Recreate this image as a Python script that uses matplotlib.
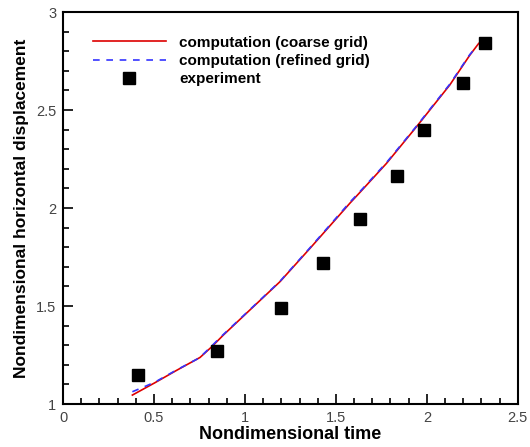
import numpy as np
import matplotlib.pyplot as plt
from matplotlib.ticker import MultipleLocator, FormatStrFormatter

plt.rcParams['font.family'] = ['Liberation Sans', 'DejaVu Sans']

# computed displacement, coarse grid
t_coarse = [0.381, 0.505, 0.62, 0.753, 0.817, 0.881, 1.027, 1.192, 1.357,
            1.577, 1.632, 1.778, 1.943, 2.126, 2.236, 2.285]
x_coarse = [1.046, 1.109, 1.17, 1.238, 1.292, 1.352, 1.48, 1.624, 1.794,
            2.025, 2.08, 2.228, 2.415, 2.628, 2.78, 2.84]

# computed displacement, refined grid
t_fine = [0.381, 0.45, 0.505, 0.62, 0.75, 0.81, 0.881, 1.027, 1.192, 1.357,
          1.577, 1.632, 1.778, 1.943, 2.126, 2.236, 2.27]
x_fine = [1.063, 1.09, 1.112, 1.172, 1.236, 1.29, 1.355, 1.482, 1.626, 1.797,
          2.03, 2.084, 2.232, 2.418, 2.632, 2.783, 2.82]

# measured
t_exp = [0.41, 0.848, 1.198, 1.427, 1.634, 1.837, 1.985, 2.198, 2.32]
x_exp = [1.15, 1.27, 1.49, 1.72, 1.945, 2.163, 2.40, 2.636, 2.843]

fig = plt.figure(figsize=(5.3, 4.47), dpi=100)
ax = fig.add_axes([0.119, 0.096, 0.858, 0.877])

ax.plot(t_coarse, x_coarse, color='#dd0000', lw=1.2,
        label='computation (coarse grid)')
ax.plot(t_fine, x_fine, color='#3333ff', lw=1.2, ls=(0, (4, 4)),
        label='computation (refined grid)')
ax.plot(t_exp, x_exp, 's', color='black', ms=8, label='experiment')

ax.set_xlim(0, 2.5)
ax.set_ylim(1, 3)
ax.xaxis.set_major_locator(MultipleLocator(0.5))
ax.xaxis.set_minor_locator(MultipleLocator(0.1))
ax.yaxis.set_major_locator(MultipleLocator(0.5))
ax.yaxis.set_minor_locator(MultipleLocator(0.1))
ax.xaxis.set_major_formatter(FormatStrFormatter('%g'))
ax.yaxis.set_major_formatter(FormatStrFormatter('%g'))
ax.tick_params(which='both', direction='in', width=1.2, labelsize=10.5,
               labelcolor='#444444', top=False, right=False)
ax.tick_params(which='major', length=7, pad=5)
ax.tick_params(which='minor', length=4)
for s in ax.spines.values():
    s.set_linewidth(1.5)

ax.set_xlabel('Nondimensional time', fontsize=13, fontweight='bold', labelpad=1)
ax.set_ylabel('Nondimensional horizontal displacement', fontsize=12.5,
              fontweight='bold', labelpad=5)

ax.legend(loc='upper left', bbox_to_anchor=(0.035, 0.975), frameon=False,
          handlelength=4.8, handletextpad=0.85, labelspacing=0.28,
          prop={'size': 11, 'weight': 'bold'})

fig.savefig('out.png', dpi=100)
